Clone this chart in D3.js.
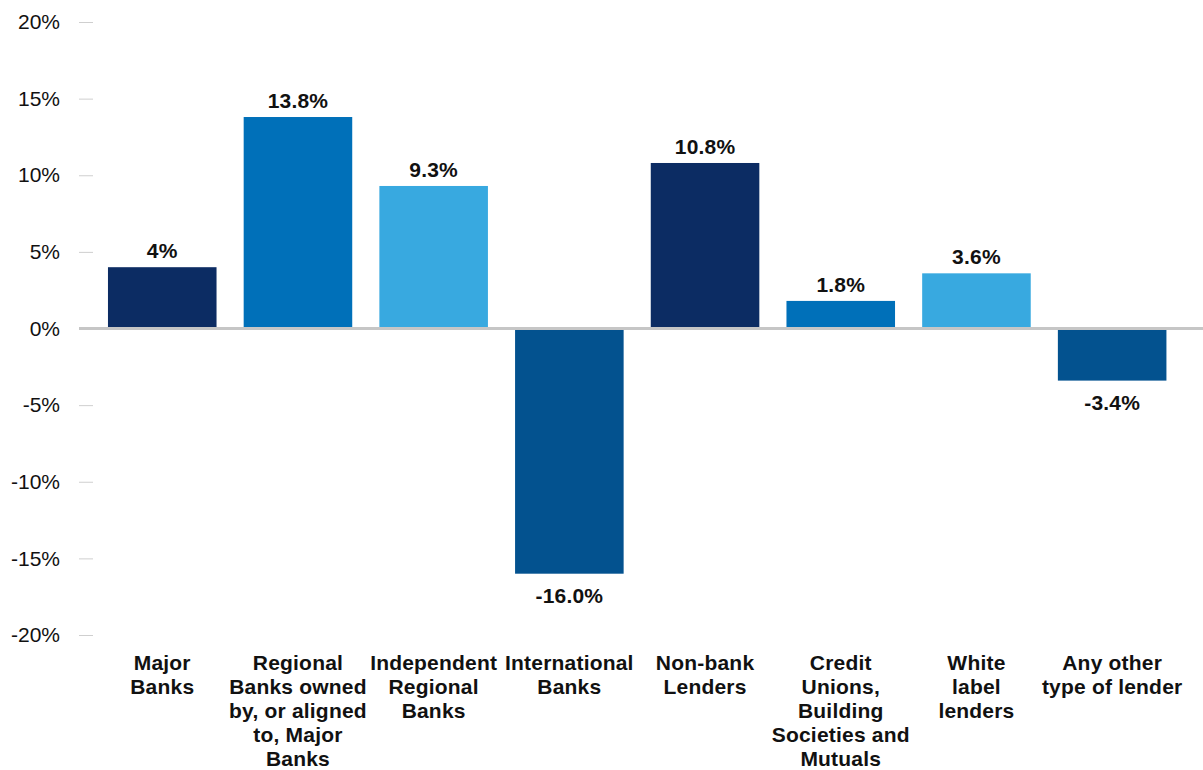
<!DOCTYPE html>
<html>
<head>
<meta charset="utf-8">
<script src="https://cdn.jsdelivr.net/npm/d3@7"></script>
<style>
  html, body { margin: 0; padding: 0; background: #fff; }
  svg { display: block; font-family: "Liberation Sans", Arial, Helvetica, sans-serif; }
</style>
</head>
<body>
<svg id="chart" width="1203" height="770"></svg>
<script>
// Lender categories, wrapped onto the lines they are shown on
const categories = [
  "Major Banks",
  "Regional Banks owned by, or aligned to, Major Banks",
  "Independent Regional Banks",
  "International Banks",
  "Non-bank Lenders",
  "Credit Unions, Building Societies and Mutuals",
  "White label lenders",
  "Any other type of lender"
];
const categoryLines = [
  ["Major", "Banks"],
  ["Regional", "Banks owned", "by, or aligned", "to, Major", "Banks"],
  ["Independent", "Regional", "Banks"],
  ["International", "Banks"],
  ["Non-bank", "Lenders"],
  ["Credit", "Unions,", "Building", "Societies and", "Mutuals"],
  ["White", "label", "lenders"],
  ["Any other", "type of lender"]
];
// Change (%) per lender type
const values = [4, 13.8, 9.3, -16.0, 10.8, 1.8, 3.6, -3.4];
const valueLabels = ["4%", "13.8%", "9.3%", "-16.0%", "10.8%", "1.8%", "3.6%", "-3.4%"];
const barColors = ["#0c2c63", "#0070b9", "#38a9e0", "#03528f", "#0c2c63", "#0070b9", "#38a9e0", "#03528f"];
const yTicks = [-20, -15, -10, -5, 0, 5, 10, 15, 20];

const svg = d3.select("#chart");

const y = d3.scaleLinear().domain([-20, 20]).range([635, 22]);
const x = d3.scaleBand()
  .domain(categories)
  .range([94.4, 1180])
  .paddingInner(0.2)
  .paddingOuter(0.1);

// Y axis: short grey ticks with percentage labels
const yAxis = d3.axisLeft(y)
  .tickValues(yTicks)
  .tickSize(14)
  .tickPadding(19)
  .tickFormat(d => d + "%");

const gy = svg.append("g")
  .attr("transform", "translate(93,0)")
  .call(yAxis);
gy.select(".domain").remove();
gy.selectAll(".tick line").attr("stroke", "#cfcfcf").attr("stroke-width", 1);
gy.selectAll(".tick text")
  .attr("fill", "#111")
  .style("font-size", "21px")
  .style("font-family", "'Liberation Sans', Arial, sans-serif");

// Bars
svg.append("g").selectAll("rect")
  .data(values)
  .join("rect")
  .attr("x", (d, i) => x(categories[i]))
  .attr("width", x.bandwidth())
  .attr("y", d => y(Math.max(0, d)))
  .attr("height", d => Math.abs(y(d) - y(0)))
  .attr("fill", (d, i) => barColors[i]);

// Zero baseline
svg.append("line")
  .attr("x1", 79).attr("x2", 1203)
  .attr("y1", y(0)).attr("y2", y(0))
  .attr("stroke", "#c6c6c6")
  .attr("stroke-width", 3);

// Value labels
svg.append("g").selectAll("text")
  .data(values)
  .join("text")
  .attr("x", (d, i) => x(categories[i]) + x.bandwidth() / 2)
  .attr("y", d => d >= 0 ? y(d) - 9 : y(d) + 29)
  .attr("text-anchor", "middle")
  .attr("fill", "#111")
  .style("font-size", "21px")
  .style("font-weight", "bold")
  .style("letter-spacing", "0.2px")
  .text((d, i) => valueLabels[i]);

// Category labels below the plot
const cat = svg.append("g").selectAll("text")
  .data(categories)
  .join("text")
  .attr("x", d => x(d) + x.bandwidth() / 2)
  .attr("y", 670)
  .attr("text-anchor", "middle")
  .attr("fill", "#111")
  .style("font-size", "21px")
  .style("font-weight", "bold")
  .style("letter-spacing", "0.2px");

cat.each(function(d, i) {
  const t = d3.select(this);
  categoryLines[i].forEach((line, k) => {
    t.append("tspan")
      .attr("x", x(d) + x.bandwidth() / 2)
      .attr("dy", k === 0 ? 0 : 24)
      .text(line);
  });
});
</script>
</body>
</html>
